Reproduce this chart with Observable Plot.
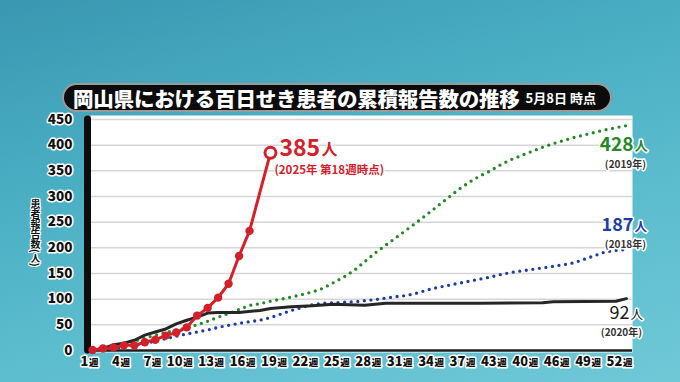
<!DOCTYPE html>
<html><head><meta charset="utf-8">
<script src="https://cdn.jsdelivr.net/npm/d3@7"></script>
<script src="https://cdn.jsdelivr.net/npm/@observablehq/plot@0.6"></script>
<style>
html,body{margin:0;padding:0;}
body{width:680px;height:382px;overflow:hidden;position:relative;
  background:linear-gradient(165deg,#3a97b1 0%,#4aaec3 35%,#5cbdce 65%,#6fc8d6 100%);
  font-family:"Noto Sans CJK JP","Noto Sans",sans-serif;}
#chart{position:absolute;left:0;top:0;}
#title{position:absolute;left:62px;top:83px;width:550px;height:29px;box-sizing:border-box;
  background:#0b0b0b;border:2px solid #9a9a9a;border-radius:15px;color:#fff;
  display:flex;align-items:center;padding-left:9px;white-space:nowrap;}
#title .main{font-size:20.5px;font-weight:900;letter-spacing:-0.2px;}
#title .sub{font-size:13px;font-weight:700;margin-left:6px;}
#ylab{position:absolute;left:30px;top:199px;writing-mode:vertical-rl;font-size:10px;font-weight:700;color:#111;
  line-height:1;white-space:nowrap;
  text-shadow:-1px 0 #fff,1px 0 #fff,0 -1px #fff,0 1px #fff,1px 1px #fff,-1px -1px #fff,1px -1px #fff,-1px 1px #fff;}
</style></head>
<body>
<div id="chart"></div>
<div id="title"><span class="main">岡山県における百日せき患者の累積報告数の推移</span><span class="sub">5月8日 時点</span></div>
<div id="ylab">患者報告数(人)</div>
<script>
// ---- data ----
const weeks2025 = [1,2,3,4,5,6,7,8,9,10,11,12,13,14,15,16,18];
const cases2025 = [1,4,6,10,10,16,21,29,35,45,68,83,103,130,184,233,385];

const weeks2020 = [1,2,3,4,5,6,7,8,9,10,11,12,13,15,17,18,20,22,24,27,29,38,44,45,51,52];
const cases2020 = [0,4,11,14,20,30,36,42,52,59,65,73,74,74,78,82,85,87,90,88,92,92,93,95,96,101];

const weeks2019 = [1,3,5,6,7,8,9,10,11,12,13,14,15,16,17,18,20,22,23,24,25,26,27,28,29,30,31,32,33,34,35,36,37,38,39,40,41,42,43,44,45,46,47,48,49,50,51,52];
const cases2019 = [0,8,18,24,30,35,40,44,50,57,65,72,80,88,91,96,104,114,121,132,143,156,173,190,205,220,235,250,266,282,298,314,328,340,350,362,372,380,388,396,403,409,415,420,425,430,434,438];

const weeks2018 = [1,3,5,7,8,9,10,11,12,13,14,15,16,17,18,19,20,21,22,23,24,25,26,27,28,29,30,31,32,33,34,35,36,37,38,39,40,41,42,43,44,45,46,47,48,49,50,51,52];
const cases2018 = [0,4,10,18,23,28,32,36,40,45,49,53,56,59,64,71,78,84,89,92,93,94,95,97,99,102,105,107,112,118,123,127,131,135,139,143,148,152,155,158,161,164,167,171,178,185,192,195,197];

const yTicks = [0,50,100,150,200,250,300,350,400,450];
const xTickWeeks = [1,4,7,10,13,16,19,22,25,28,31,34,37,40,43,46,49,52];
const xTickNums = ["1","4","7","10","13","16","19","22","25","28","31","34","37","43","40","46","49","52"];

const label2025 = {value:385, note:"(2025年 第18週時点)"};
const endLabels = [
  {series:"2019", value:428, year:"(2019年)"},
  {series:"2018", value:187, year:"(2018年)"},
  {series:"2020", value:92, year:"(2020年)"}
];

// ---- build ----
const toRows = (w, v) => w.map((x, i) => ({week:x, value:v[i]}));
const d2025 = toRows(weeks2025, cases2025);
const d2020 = toRows(weeks2020, cases2020);
const d2019 = toRows(weeks2019, cases2019);
const d2018 = toRows(weeks2018, cases2018);
const last = a => a[a.length - 1];

const RED = "#d4202a", GREEN = "#27882a", BLUE = "#1f3ca6", BLACK = "#262626";
const X0 = 0.81, X1 = 52.58;
const outline = {stroke:"white", strokeWidth:3, strokeLinejoin:"round"};
const font = "'Noto Sans CJK JP', 'Noto Sans', sans-serif";

function endText(series, lab, color, o) {
  const p = last(series);
  const anchor = [{week:p.week, value:p.value, lab}];
  return [
    Plot.text(anchor, {x:"week", y:"value", text:d => String(d.lab.value), textAnchor:"end", lineAnchor:"bottom",
      dx:o.dx, dy:o.dy, fontSize:o.fs, fontWeight:o.fw, fill:color, ...outline}),
    Plot.text(anchor, {x:"week", y:"value", text:() => "人", textAnchor:"start", lineAnchor:"bottom",
      dx:o.dx + 1, dy:o.dy, fontSize:o.fs * 0.7, fontWeight:o.fw, fill:color, ...outline}),
    Plot.text(anchor, {x:"week", y:"value", text:d => d.lab.year, textAnchor:"middle", lineAnchor:"bottom",
      dx:o.dx - 8, dy:o.dy + 17, fontSize:10, fontWeight:"bold", fill:"#333", ...outline})
  ];
}

const p25 = last(d2025);
const chart = Plot.plot({
  width:680, height:382,
  marginTop:119, marginBottom:32, marginLeft:90, marginRight:48,
  x:{domain:[X0, X1], axis:null},
  y:{domain:[0, 450], axis:null},
  style:{background:"transparent", fontFamily:font, overflow:"visible"},
  marks:[
    Plot.frame({fill:"white", stroke:null, insetTop:-4, insetBottom:-2}),
    Plot.gridY(yTicks.filter(d => d > 0), {stroke:"#d6d6d6", strokeOpacity:1, strokeWidth:1.5}),
    Plot.ruleY([0], {stroke:"#1c1c1c", strokeWidth:2.5}),
    Plot.ruleX([X0], {y1:0, y2:450, stroke:"#0d0d0d", strokeWidth:7, strokeLinecap:"round", dx:-3}),
    Plot.line(d2018, {x:"week", y:"value", stroke:BLUE, strokeWidth:3.3, strokeDasharray:"0 6.6", strokeLinecap:"round"}),
    Plot.line(d2019, {x:"week", y:"value", stroke:GREEN, strokeWidth:3.3, strokeDasharray:"0 6.6", strokeLinecap:"round"}),
    Plot.line(d2020, {x:"week", y:"value", stroke:BLACK, strokeWidth:3}),
    Plot.line(d2025, {x:"week", y:"value", stroke:RED, strokeWidth:3}),
    Plot.dot(d2025.slice(0, -1), {x:"week", y:"value", r:4.2, fill:RED, stroke:null}),
    Plot.dot([p25], {x:"week", y:"value", r:5.5, fill:"white", stroke:RED, strokeWidth:3}),
    // y tick labels
    Plot.text(yTicks, {y:d => d, text:d => String(d), frameAnchor:"left", dx:-18, textAnchor:"end",
      fontSize:13.5, fontWeight:900, fill:"#111", ...outline}),
    // x tick labels
    Plot.text(xTickWeeks, {x:d => d, text:(d, i) => xTickNums[i], frameAnchor:"bottom", dy:11, dx:-4,
      textAnchor:"end", lineAnchor:"middle", fontSize:13, fontWeight:900, fill:"#111", ...outline}),
    Plot.text(xTickWeeks, {x:d => d, text:() => "週", frameAnchor:"bottom", dy:12, dx:-3.5,
      textAnchor:"start", lineAnchor:"middle", fontSize:9.5, fontWeight:900, fill:"#111", ...outline}),
    // 2025 label
    Plot.text([p25], {x:"week", y:"value", text:() => String(label2025.value), textAnchor:"start", lineAnchor:"bottom",
      dx:9, dy:3, fontSize:23, fontWeight:"bold", fill:RED, ...outline}),
    Plot.text([p25], {x:"week", y:"value", text:() => "人", textAnchor:"start", lineAnchor:"bottom",
      dx:51, dy:2, fontSize:16, fontWeight:"bold", fill:RED, ...outline}),
    Plot.text([p25], {x:"week", y:"value", text:() => label2025.note, textAnchor:"start", lineAnchor:"bottom",
      dx:4, dy:21, fontSize:11.5, fontWeight:"bold", fill:RED, ...outline}),
    ...endText(d2019, endLabels[0], GREEN, {dx:7, dy:25, fs:19, fw:"bold"}),
    ...endText(d2018, endLabels[1], BLUE, {dx:7, dy:-18, fs:18, fw:"bold"}),
    ...endText(d2020, endLabels[2], "#1a1a1a", {dx:3, dy:20, fs:18, fw:"normal"})
  ]
});
document.getElementById("chart").appendChild(chart);
</script>
</body></html>
